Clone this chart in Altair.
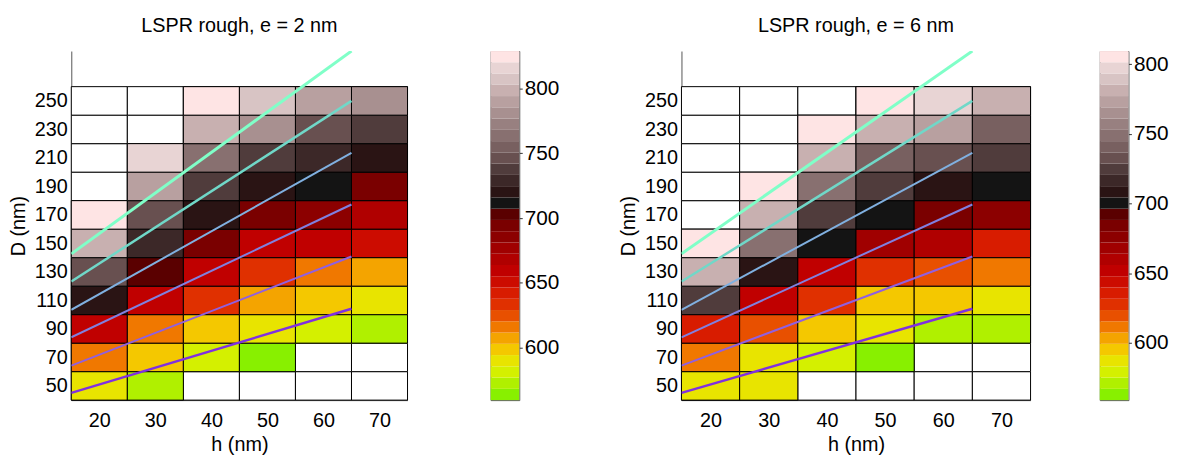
import altair as alt
import pandas as pd
import numpy as np

FONT = "Liberation Sans"

# ---- grid axes ----
H_VALUES = [20, 30, 40, 50, 60, 70]
D_VALUES = [50, 70, 90, 110, 130, 150, 170, 190, 210, 230, 250]

# ---- LSPR (nm), e = 2 nm: one list per h, D = 50 ... 250 (None = no data) ----
e2_h20 = [590, 616, 659, 720, 746, 799, 825, None, None, None, None]
e2_h30 = [573, 599, 616, 659, 703, 729, 746, 790, 816, None, None]
e2_h40 = [None, 581, 599, 633, 659, 694, 720, 738, 764, 799, 825]
e2_h50 = [None, 564, 590, 607, 633, 659, 694, 720, 738, 781, 807]
e2_h60 = [None, None, 581, 599, 616, 659, 686, 712, 729, 746, 790]
e2_h70 = [None, None, 573, 590, 607, 651, 668, 694, 720, 738, 781]

# ---- LSPR (nm), e = 6 nm ----
e6_h20 = [587, 611, 636, 725, 781, 805, None, None, None, None, None]
e6_h30 = [587, 587, 619, 652, 708, 749, 781, 805, None, None, None]
e6_h40 = [None, 579, 595, 628, 652, 700, 725, 749, 781, 805, None]
e6_h50 = [None, 563, 587, 595, 628, 668, 700, 725, 741, 781, 805]
e6_h60 = [None, None, 571, 595, 619, 660, 684, 708, 733, 773, 797]
e6_h70 = [None, None, 571, 587, 611, 636, 676, 700, 725, 741, 781]

# colour-axis limits of each panel
CLIM_E2 = [559.5, 829.0]
CLIM_E6 = [558.8, 809.4]
CBAR_TICKS = [600, 650, 700, 750, 800]

# ---- overlay lines (same in both panels) ----
LINE_H = [15, 65]
LINE_D_START = [45.1, 64.2, 84.1, 103.4, 123.2, 142.7]
LINE_D_END = [104.1, 140.8, 177.3, 213.6, 250.0, 285.0]
LINE_COLORS = ["#8030e0", "#9060e0", "#8080e0", "#80b0e0", "#70d8c8", "#80ffc8"]
LINE_WIDTHS = [2.5, 2.0, 2.0, 2.0, 2.5, 3.0]

# discrete colormap, low -> high
PALETTE = [
    "#88f000", "#b0f000", "#d4f000", "#e8e400", "#f4c800", "#f4a400",
    "#f07800", "#e85000", "#e03000", "#d81c00", "#cc0c00", "#c00000",
    "#b00000", "#a00000", "#8c0000", "#7a0000", "#5a0000", "#141414",
    "#2a1414", "#3c2828", "#503c3c", "#685050", "#786060", "#887070",
    "#988080", "#a89090", "#b8a0a0", "#c8b0b0", "#d8c4c4", "#e8d4d4",
    "#fee4e4",
]


def cells_frame(cols):
    rows = []
    for h, col in zip(H_VALUES, cols):
        for d, v in zip(D_VALUES, col):
            rows.append({"h": h, "D": d, "v": v})
    return pd.DataFrame(rows)


lines_rows = []
for i, (d0, d1) in enumerate(zip(LINE_D_START, LINE_D_END)):
    for h, d in zip(LINE_H, [d0, d1]):
        lines_rows.append({"id": i, "h": h, "D": d, "w": LINE_WIDTHS[i]})
lines_df = pd.DataFrame(lines_rows)

xscale = alt.Scale(domain=[15, 75], nice=False, zero=False)
yscale = alt.Scale(domain=[40, 285], nice=False, zero=False)

XAX = alt.Axis(values=H_VALUES, title="h (nm)", grid=False, ticks=False,
               labelPadding=11, titlePadding=4, labelOverlap=False)
YAX = alt.Axis(values=D_VALUES, title="D (nm)", grid=False, ticks=False,
               labelPadding=4, titlePadding=6, labelOverlap=False)


def heatmap(cols, clim, title, width):
    df = cells_frame(cols)
    cscale = alt.Scale(type="quantize", domain=clim, range=PALETTE, nice=False, zero=False)
    base = alt.Chart(df).transform_calculate(
        x0="datum.h - 5", x1="datum.h + 5", y0="datum.D - 10", y1="datum.D + 10"
    )
    white = base.mark_rect(fill="white", stroke="#000", strokeWidth=1).encode(
        x=alt.X("x0:Q", scale=xscale, axis=XAX),
        x2="x1:Q",
        y=alt.Y("y0:Q", scale=yscale, axis=YAX),
        y2="y1:Q",
    )
    colored = base.transform_filter("isValid(datum.v)").mark_rect(
        stroke="#000", strokeWidth=1
    ).encode(
        x=alt.X("x0:Q", scale=xscale, axis=XAX),
        x2="x1:Q",
        y=alt.Y("y0:Q", scale=yscale, axis=YAX),
        y2="y1:Q",
        color=alt.Color("v:Q", scale=cscale, legend=None),
    )
    lines = alt.Chart(lines_df).mark_line(clip=True).encode(
        x=alt.X("h:Q", scale=xscale, axis=XAX),
        y=alt.Y("D:Q", scale=yscale, axis=YAX),
        color=alt.Color("id:N", scale=alt.Scale(domain=list(range(6)), range=LINE_COLORS), legend=None),
        strokeWidth=alt.StrokeWidth("w:Q", scale=None),
        detail="id:N",
    )
    return alt.layer(white, colored, lines).properties(
        width=width, height=353,
        title=alt.TitleParams(title, font=FONT, fontSize=20, fontWeight="normal",
                              frame="group", anchor="middle", offset=15, color="#000"),
    ).resolve_scale(color="independent")


def colorbar(clim):
    edges = np.linspace(clim[0], clim[1], len(PALETTE) + 1)
    cb = pd.DataFrame({"lo": edges[:-1], "hi": edges[1:]})
    cb["mid"] = (cb["lo"] + cb["hi"]) / 2
    cscale = alt.Scale(type="quantize", domain=clim, range=PALETTE, nice=False, zero=False)
    return alt.Chart(cb).mark_rect().encode(
        y=alt.Y("lo:Q", scale=alt.Scale(domain=clim, nice=False, zero=False),
                axis=alt.Axis(orient="right", values=CBAR_TICKS, title=None, grid=False,
                              ticks=True, tickSize=3, tickColor="#333", domain=False,
                              labelPadding=2, labelFontSize=21, labelOverlap=False)),
        y2="hi:Q",
        color=alt.Color("mid:Q", scale=cscale, legend=None),
    ).properties(width=29, height=353,
                 view=alt.ViewBackground(stroke="#555", strokeWidth=1))


left = alt.hconcat(
    heatmap([e2_h20, e2_h30, e2_h40, e2_h50, e2_h60, e2_h70], CLIM_E2, "LSPR rough, e = 2 nm", 340),
    colorbar(CLIM_E2),
    spacing=82,
).resolve_scale(color="independent")
right = alt.hconcat(
    heatmap([e6_h20, e6_h30, e6_h40, e6_h50, e6_h60, e6_h70], CLIM_E6, "LSPR rough, e = 6 nm", 353),
    colorbar(CLIM_E6),
    spacing=68,
).resolve_scale(color="independent")

chart = alt.hconcat(left, right, spacing=59).resolve_scale(color="independent").properties(
    padding={"left": 0, "top": 6, "right": 0, "bottom": 0}
).configure_view(stroke=None).configure_axis(
    labelFont=FONT, titleFont=FONT, labelFontSize=20, titleFontSize=20,
    titleFontWeight="normal", labelColor="#000", titleColor="#000",
    domainColor="#555", domainWidth=1, labelOverlap=False,
)

chart.save("out.html", embed_options={"renderer": "svg", "actions": False})
